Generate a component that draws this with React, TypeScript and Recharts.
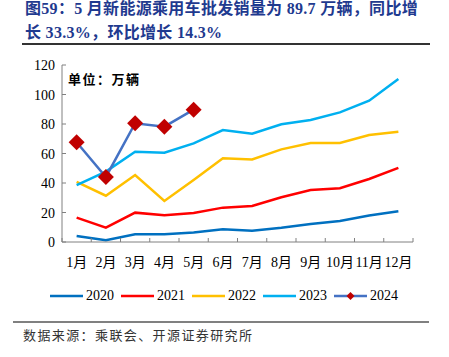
import React from 'react';
import { LineChart, Line, XAxis, YAxis } from 'recharts';

const months = ['1月', '2月', '3月', '4月', '5月', '6月', '7月', '8月', '9月', '10月', '11月', '12月'];
const s2020 = [4.0, 1.2, 5.2, 5.3, 6.5, 8.6, 7.7, 9.7, 12.2, 14.2, 18.0, 20.8];
const s2021 = [16.5, 9.7, 19.9, 18.1, 19.7, 23.3, 24.4, 30.3, 35.3, 36.4, 42.7, 50.2];
const s2022 = [40.7, 31.4, 45.4, 27.8, 42.0, 56.7, 56.0, 62.8, 67.1, 67.2, 72.5, 74.8];
const s2023 = [38.6, 47.7, 61.2, 60.5, 66.9, 75.9, 73.4, 79.8, 82.7, 87.9, 95.8, 110.5];
const s2024 = [67.6, 44.1, 80.5, 78.2, 89.7];
const yTicks = [0, 20, 40, 60, 80, 100, 120];

const series = [
  { key: 'y2020', name: '2020', color: '#0070C0' },
  { key: 'y2021', name: '2021', color: '#FF0000' },
  { key: 'y2022', name: '2022', color: '#FFC000' },
  { key: 'y2023', name: '2023', color: '#00B0F0' },
  { key: 'y2024', name: '2024', color: '#4472C4' },
];

const data = months.map((m, i) => ({
  month: m,
  y2020: s2020[i],
  y2021: s2021[i],
  y2022: s2022[i],
  y2023: s2023[i],
  y2024: s2024[i] ?? null,
}));

const serif = '"Liberation Serif", "Noto Sans CJK SC", serif';
const axisColor = '#808080';
const plotW = 351;
const band = plotW / months.length;

const XTick = (props: any) => {
  const { x, y, payload, index } = props;
  return (
    <g>
      <line x1={x - band / 2} x2={x - band / 2} y1={y} y2={y - 4} stroke={axisColor} />
      {index === months.length - 1 && (
        <line x1={x + band / 2} x2={x + band / 2} y1={y} y2={y - 4} stroke={axisColor} />
      )}
      <text x={x} y={y + 25} textAnchor="middle" fontSize={14} fill="#000" fontFamily={serif}>
        {payload.value}
      </text>
    </g>
  );
};

const YTick = (props: any) => {
  const { x, y, payload } = props;
  return (
    <g>
      <line x1={x} x2={x + 4} y1={y} y2={y} stroke={axisColor} />
      <text x={x - 7} y={y + 5} textAnchor="end" fontSize={14} fill="#000" fontFamily={serif}>
        {payload.value}
      </text>
    </g>
  );
};

const Diamond = (props: any) => {
  const { cx, cy } = props;
  if (cx == null || cy == null) return null;
  const r = 8;
  return (
    <polygon
      points={`${cx},${cy - r} ${cx + r},${cy} ${cx},${cy + r} ${cx - r},${cy}`}
      fill="#C00000"
    />
  );
};

export default function App() {
  return (
    <div style={{ position: 'absolute', left: 0, top: 0, width: 449, height: 357, background: '#fff', overflow: 'hidden' }}>
      <div
        style={{
          position: 'absolute',
          left: 25,
          top: -3,
          fontFamily: serif,
          fontWeight: 'bold',
          fontSize: 16,
          lineHeight: '24px',
          color: '#1F3A8F',
          whiteSpace: 'nowrap',
          letterSpacing: 0.3,
        }}
      >
        <div>图59：5 月新能源乘用车批发销量为 89.7 万辆，同比增</div>
        <div>长 33.3%，环比增长 14.3%</div>
      </div>
      <div style={{ position: 'absolute', left: 22, top: 43, width: 408, height: 1.5, background: '#333' }} />

      <div style={{ position: 'absolute', left: 0, top: 0 }}>
        <LineChart width={449} height={280} data={data} margin={{ top: 65, right: 36, left: 22, bottom: 8 }}>
          <XAxis
            dataKey="month"
            stroke={axisColor}
            tickLine={false}
            tickSize={0}
            tickMargin={0}
            height={30}
            interval={0}
            padding={{ left: band / 2, right: band / 2 }}
            tick={<XTick />}
          />
          <YAxis
            domain={[0, 120]}
            ticks={yTicks}
            stroke={axisColor}
            tickLine={false}
            tickSize={0}
            tickMargin={0}
            width={40}
            interval={0}
            tick={<YTick />}
          />
          {series.slice(0, 4).map((s) => (
            <Line
              key={s.key}
              dataKey={s.key}
              name={s.name}
              stroke={s.color}
              strokeWidth={2.5}
              dot={false}
              isAnimationActive={false}
            />
          ))}
          <Line
            dataKey="y2024"
            name="2024"
            stroke="#4472C4"
            strokeWidth={2.5}
            dot={<Diamond />}
            connectNulls={false}
            isAnimationActive={false}
          />
        </LineChart>
      </div>

      <div
        style={{
          position: 'absolute',
          left: 68,
          top: 69,
          fontFamily: '"Noto Sans CJK SC", sans-serif',
          fontWeight: 'bold',
          fontSize: 13,
          letterSpacing: 1.5,
          color: '#000',
        }}
      >
        单位：万辆
      </div>

      <div style={{ position: 'absolute', left: 50, top: 287, display: 'flex', alignItems: 'center', fontFamily: serif, fontSize: 14, color: '#000' }}>
        {series.map((s) => (
          <div key={s.key} style={{ display: 'flex', alignItems: 'center', marginRight: 7 }}>
            <svg width={34} height={18}>
              <line x1={0} x2={33} y1={9} y2={9} stroke={s.color} strokeWidth={2.5} />
              {s.key === 'y2024' && <polygon points="16.5,5 20.5,9 16.5,13 12.5,9" fill="#C00000" />}
            </svg>
            <span style={{ marginLeft: 2 }}>{s.name}</span>
          </div>
        ))}
      </div>

      <div style={{ position: 'absolute', left: 13, top: 321, width: 416, height: 1.5, background: '#808080' }} />
      <div
        style={{
          position: 'absolute',
          left: 23,
          top: 325,
          fontFamily: '"Noto Sans CJK SC", sans-serif',
          fontSize: 13,
          letterSpacing: 1.4,
          color: '#333',
          whiteSpace: 'nowrap',
        }}
      >
        数据来源：乘联会、开源证券研究所
      </div>
    </div>
  );
}
